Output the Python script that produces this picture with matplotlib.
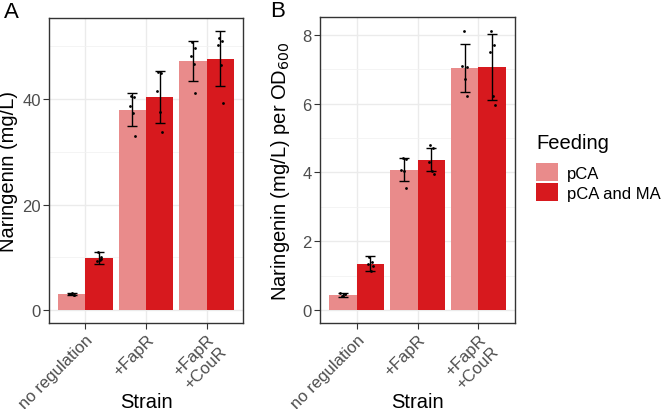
import numpy as np
import matplotlib.pyplot as plt
from matplotlib.patches import Patch

plt.rcParams['font.family'] = ['Liberation Sans', 'DejaVu Sans']

strains = ['no regulation', '+FapR', '+FapR\n+CouR']
feeds = ['pCA', 'pCA and MA']
colors = ['#E98B8B', '#D7191E']

# panel A: naringenin (mg/L)
a_pca = [3.0, 38.0, 47.2]
a_pca_sd = [0.15, 3.1, 3.75]
a_ma = [9.9, 40.4, 47.7]
a_ma_sd = [1.1, 4.9, 5.2]
a_pca_pts = [[3.1, 2.9, 3.0, 3.2, 2.9],
             [40.6, 40.4, 38.7, 37.3, 33.1],
             [50.9, 49.8, 48.1, 46.6, 41.2]]
a_ma_pts = [[11.1, 10.1, 9.3, 9.5, 9.6],
            [45.1, 44.9, 41.5, 37.5, 33.7],
            [51.6, 51.0, 50.2, 46.5, 39.2]]

# panel B: naringenin per OD600
b_pca = [0.44, 4.08, 7.04]
b_pca_sd = [0.06, 0.34, 0.70]
b_ma = [1.34, 4.37, 7.08]
b_ma_sd = [0.22, 0.34, 0.96]
b_pca_pts = [[0.40, 0.45, 0.48, 0.40, 0.47],
             [4.41, 4.39, 4.06, 4.03, 3.54],
             [8.12, 7.07, 7.09, 6.73, 6.23]]
b_ma_pts = [[1.55, 1.40, 1.33, 1.14, 1.28],
            [4.81, 4.72, 4.30, 4.05, 3.94],
            [8.10, 7.70, 7.49, 6.21, 5.95]]

jitter = [-0.02, 0.03, -0.04, 0.01, 0.04]

fig = plt.figure(figsize=(6.61, 4.10), dpi=100)
axA = fig.add_axes([49/661, 1-324/410, 194/661, 305/410])
axB = fig.add_axes([320/661, 1-324/410, 195/661, 306/410])


def panel(ax, pca, pca_sd, ma, ma_sd, pca_pts, ma_pts, ylim, major, minor, ylabel):
    x = np.arange(len(strains))
    w = 0.45
    for off, vals, sd, pts, c in [(-w/2, pca, pca_sd, pca_pts, colors[0]),
                                  (w/2, ma, ma_sd, ma_pts, colors[1])]:
        ax.bar(x + off, vals, width=w, color=c, zorder=2)
        ax.errorbar(x + off, vals, yerr=sd, fmt='none', ecolor='black',
                    elinewidth=1, capsize=3.3, capthick=1, zorder=4)
        for i, p in enumerate(pts):
            ax.scatter(x[i] + off + np.array(jitter[:len(p)]), p, s=4,
                       color='black', zorder=5, linewidths=0)
    ax.set_xlim(-0.6, len(strains) - 0.4)
    ax.set_ylim(*ylim)
    ax.set_xticks(x)
    ax.set_xticklabels(strains, rotation=45, ha='right', va='top',
                       rotation_mode='anchor', fontsize=12, color='#4D4D4D')
    ax.set_yticks(major)
    ax.set_yticks(minor, minor=True)
    ax.tick_params(axis='y', labelsize=12, labelcolor='#4D4D4D')
    ax.tick_params(which='major', length=4, width=0.8, color='#333333', pad=2)
    ax.tick_params(which='minor', length=0)
    ax.grid(which='major', color='#EBEBEB', linewidth=1.0, zorder=0)
    ax.grid(which='minor', axis='y', color='#F2F2F2', linewidth=0.6, zorder=0)
    ax.set_axisbelow(True)
    for s in ax.spines.values():
        s.set_color('#333333')
        s.set_linewidth(1.0)
    ax.set_ylabel(ylabel, fontsize=14.5, va='center')
    ax.set_xlabel('Strain', fontsize=14.5, va='center')


panel(axA, a_pca, a_pca_sd, a_ma, a_ma_sd, a_pca_pts, a_ma_pts,
      (-2.46, 55.4), [0, 20, 40], [10, 30, 50], 'Naringenin (mg/L)')
panel(axB, b_pca, b_pca_sd, b_ma, b_ma_sd, b_pca_pts, b_ma_pts,
      (-0.38, 8.52), [0, 2, 4, 6, 8], [1, 3, 5, 7],
      'Naringenin (mg/L) per OD$_{600}$')

axA.yaxis.set_label_coords((9-49)/194, 0.5)
axB.yaxis.set_label_coords((280-320)/195, 0.5)
axA.xaxis.set_label_coords(0.5, (324-402)/305)
axB.xaxis.set_label_coords(0.5, (324-402)/306)

fig.text(4/661, 1-2/410, 'A', fontsize=16, ha='left', va='top')
fig.text(270/661, 1-1/410, 'B', fontsize=16, ha='left', va='top')

handles = [Patch(facecolor=c, edgecolor='none') for c in colors]
leg = fig.legend(handles, feeds, title='Feeding', loc='upper left',
                 bbox_to_anchor=(536/661, 1-134/410), frameon=False,
                 fontsize=12, title_fontsize=14.5, handlelength=1.3,
                 handleheight=1.3, handletextpad=0.55, labelspacing=0.1,
                 borderaxespad=0, borderpad=0)
leg._legend_box.align = 'left'
leg._legend_box.sep = 8

fig.savefig('out.png', dpi=100)
